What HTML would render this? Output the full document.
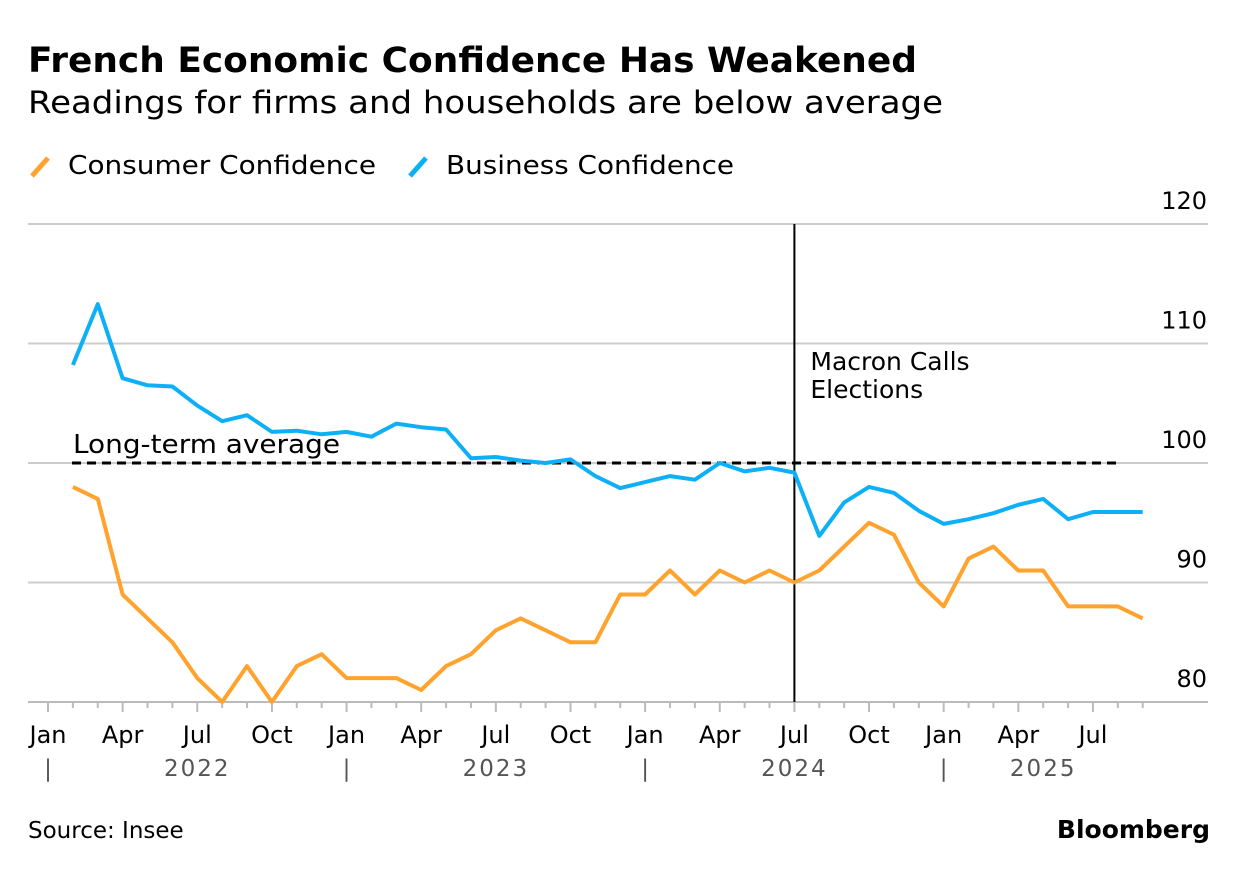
<!DOCTYPE html>
<html><head><meta charset="utf-8"><style>
body{margin:0;background:#fff;font-family:"DejaVu Sans","Liberation Sans",sans-serif;}
svg text{font-family:"DejaVu Sans","Liberation Sans",sans-serif;}
</style></head><body>
<svg width="1240" height="870" xmlns="http://www.w3.org/2000/svg">
<rect width="1240" height="870" fill="#fff"/>
<text x="28" y="72" font-size="35" font-weight="bold" fill="#000" textLength="889" lengthAdjust="spacingAndGlyphs">French Economic Confidence Has Weakened</text>
<text x="28" y="113" font-size="31" fill="#000" textLength="915" lengthAdjust="spacingAndGlyphs">Readings for firms and households are below average</text>
<g>
<line x1="32" y1="176" x2="48" y2="158" stroke="#ffa22e" stroke-width="5"/>
<text x="68" y="174" font-size="26" textLength="308" lengthAdjust="spacingAndGlyphs">Consumer Confidence</text>
<line x1="410" y1="176" x2="426" y2="158" stroke="#0db0f7" stroke-width="5"/>
<text x="446" y="174" font-size="26" textLength="288" lengthAdjust="spacingAndGlyphs">Business Confidence</text>
</g>
<g id="grid"></g>
<g id="xaxis"></g>
<g id="series"></g>
<text x="28" y="838" font-size="23">Source: Insee</text>
<text x="1210" y="838" font-size="25" font-weight="bold" text-anchor="end">Bloomberg</text>
</svg>
<script>
const yTicks=[80,90,100,110,120];
const monthLabels=["Jan","Apr","Jul","Oct"];
const years=["2022","2023","2024","2025"];
const consumer=[98,97,89,87,85,82,80,83,80,83,84,82,82,82,81,83,84,86,87,86,85,85,89,89,91,89,91,90,91,90,91,93,95,94,90,88,92,93,91,91,88,88,88,87];
const business=[108.2,113.3,107.1,106.5,106.4,104.8,103.5,104,102.6,102.7,102.4,102.6,102.2,103.3,103,102.8,100.4,100.5,100.2,100,100.3,98.9,97.9,98.4,98.9,98.6,100,99.3,99.6,99.2,93.9,96.7,98,97.5,96,94.9,95.3,95.8,96.5,97,95.3,95.9,95.9,95.9];
const firstMonth=1; // Feb 2022
const average=100;
const eventMonth=30;
const NS="http://www.w3.org/2000/svg";
const x=m=>48+m*24.88;
const y=v=>702-(v-80)*11.95;
function mk(tag,attrs,parent,txt){const e=document.createElementNS(NS,tag);for(const k in attrs)e.setAttribute(k,attrs[k]);if(txt!=null)e.textContent=txt;parent.appendChild(e);return e;}
const grid=document.getElementById('grid'),xa=document.getElementById('xaxis'),se=document.getElementById('series');
const lastMonth=firstMonth+consumer.length-1;
yTicks.forEach(t=>{
 const l=mk('line',{x1:28,x2:1208,y1:y(t),y2:y(t),stroke:t===80?'#bbb':'#ccc','stroke-width':2},grid);
 
 
 const tx=mk('text',{x:1207,y:y(t)-15,'font-size':24,'text-anchor':'end'},grid,t);
 
 
});
for(let m=0;m<=lastMonth;m++){
 const l=mk('line',{x1:x(m),x2:x(m),y1:702,y2:m%3===0?712:708,stroke:'#bbb','stroke-width':2},xa);
 
 
}
for(let m=0;m<=lastMonth;m+=3){
 const t=mk('text',{x:x(m),y:743,'font-size':24,'text-anchor':'middle'},xa,monthLabels[(m/3)%4]);
 
 
}
years.forEach((yr,i)=>{
 const s=mk('text',{x:x(i*12),y:776,'font-size':23,'text-anchor':'middle',fill:'#555'},xa,'|');
 
 
 const end=Math.min(i*12+12,lastMonth);
 const t=mk('text',{x:x((i*12+end)/2),y:776,'font-size':23,'text-anchor':'middle',fill:'#555','letter-spacing':'2'},xa,yr);
 
 
});
const ev=mk('line',{x1:x(eventMonth),x2:x(eventMonth),y1:224,y2:702,stroke:'#000','stroke-width':2},se);


const et=mk('text',{x:x(eventMonth)+16,y:370,'font-size':25},se);


mk('tspan',{x:x(eventMonth)+16,dy:0},et,'Macron Calls');
mk('tspan',{x:x(eventMonth)+16,dy:28},et,'Elections');
const av=mk('line',{x1:72,x2:1118,y1:y(average),y2:y(average),stroke:'#000','stroke-width':3,'stroke-dasharray':'9,6'},se);


const at=mk('text',{x:73,y:y(average)-10,'font-size':26,textLength:267,lengthAdjust:'spacingAndGlyphs'},se,'Long-term average');


function line(arr,color,name){
 const d=arr.map((v,i)=>(i?'L':'M')+x(firstMonth+i).toFixed(1)+','+y(v).toFixed(1)).join('');
 const p=mk('path',{d:d,fill:'none',stroke:color,'stroke-width':4,'stroke-linejoin':'round'},se);
 
 
}
line(consumer,'#ffa22e','consumer-confidence-line');
line(business,'#0db0f7','business-confidence-line');
</script>
</body></html>
